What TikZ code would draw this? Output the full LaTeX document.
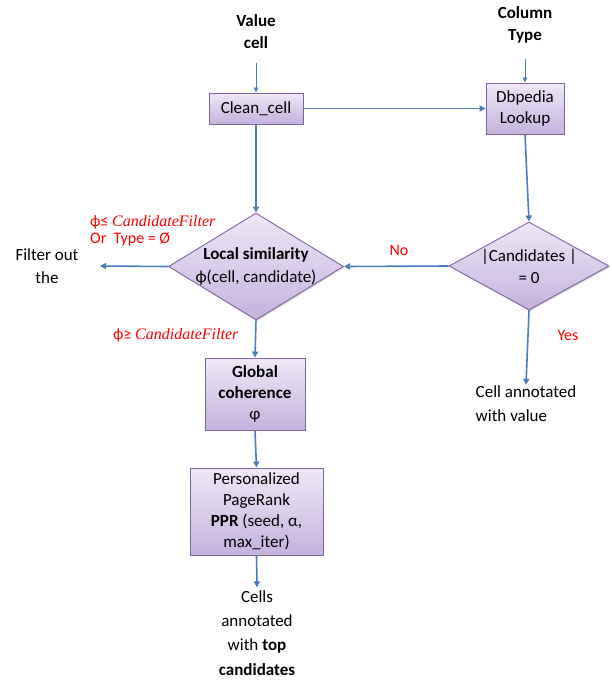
\documentclass[tikz,border=0pt]{standalone}
\usepackage{fontspec}
\setmainfont{Carlito}
\newfontfamily\filterfont{Liberation Serif}
\usetikzlibrary{positioning, arrows.meta, shapes.geometric, shadows}
\definecolor{boxtop}{HTML}{EEE8F6}
\definecolor{boxbottom}{HTML}{C4B2DD}
\definecolor{boxline}{HTML}{8064A2}
\definecolor{flowblue}{HTML}{4A7EBB}
\definecolor{notered}{HTML}{FF0000}

\begin{document}
\begin{tikzpicture}[x=1pt,y=-1pt,font=\fontsize{17}{23}\selectfont,
  box/.style={draw=boxline, line width=0.9pt, top color=boxtop, bottom color=boxbottom, drop shadow={opacity=0.3, shadow xshift=1.2pt, shadow yshift=-1.2pt}, align=center, inner sep=0pt, font=\fontsize{17}{21}\selectfont},
  decision/.style={diamond, draw=boxline, line width=0.9pt, top color=boxtop, bottom color=boxbottom, drop shadow={opacity=0.3, shadow xshift=1.2pt, shadow yshift=-1.2pt}, inner sep=0pt},
  inputlabel/.style={align=center, font=\fontsize{17}{22}\selectfont\bfseries},
  note/.style={text=notered, font=\fontsize{16}{17}\selectfont},
  flow/.style={draw=flowblue, line width=1.6pt, -{Triangle[length=6pt,width=6pt]}},
  inflow/.style={draw=flowblue, line width=0.8pt, -{Triangle[length=5pt,width=4.5pt]}}]

\useasboundingbox (0,0) rectangle (611,683);

% Inputs
\node[inputlabel] (valuecell) at (256,32) {Value\\cell};
\node[inputlabel] (coltype) at (525,25) {Column\\Type};

% Boxes
\node[box,minimum width=94,minimum height=31] (clean) at (256,108.5) {Clean\_cell};
\node[box,minimum width=78,minimum height=51] (dbpedia) at (525,108.5) {Dbpedia\\Lookup};
\node[box,minimum width=100,minimum height=72] (global) at (255,394) {\textbf{Global}\\\textbf{coherence}\\φ};
\node[box,minimum width=133,minimum height=87] (ppr) at (256.5,511.5) {Personalized\\PageRank\\\textbf{PPR} (seed, α,\\max\_iter)};

% Decisions
\node[decision,minimum width=175,minimum height=107] (locsim) at (256,266.5) {};
\node[align=center,inner sep=0pt] (locsimtext) at (locsim.center) {\textbf{Local similarity}\\ϕ(cell, candidate)};
\node[decision,minimum width=160,minimum height=88] (cand) at (529,266) {};
\node[align=center,inner sep=0pt,font=\fontsize{17}{22}\selectfont] (candtext) at (cand.center) {|Candidates |\\= 0};

% Results
\node[align=center] (filterout) at (47,266) {Filter out\\the};
\coordinate (filterend) at (100,266);
\node[align=left,inner sep=1pt,font=\fontsize{17}{24}\selectfont] (cellvalue) at (526,404) {Cell annotated\\with value};
\node[align=center,inner sep=1pt,font=\fontsize{17}{24.3}\selectfont] (cells) at (257,633) {Cells\\annotated\\with \textbf{top}\\\textbf{candidates}};

% Conditions
\node[note,align=left,anchor=west,inner sep=0pt] (lowfilter) at (90,230.5) {ϕ≤ {\filterfont\itshape CandidateFilter}\\Or~ Type = Ø};
\node[note,anchor=west,inner sep=0pt] (highfilter) at (113,335) {ϕ≥ {\filterfont\itshape CandidateFilter}};
\node[note] (no) at (399,250) {No};
\node[note] (yes) at (568,335) {Yes};

% Connectors
\draw[inflow] ([yshift=-10pt]valuecell.south) -- (clean.north);
\draw[inflow] ([yshift=-12pt]coltype.south) -- (dbpedia.north);
\draw[flow] (clean.east) -- (dbpedia.west);
\draw[flow] (clean.south) -- (locsim.north);
\draw[flow] (dbpedia.south) -- (cand.north);
\draw[flow] (cand.west) -- (locsim.east);
\draw[flow] (locsim.west) -- (filterend);
\draw[flow] (cand.south) -- (cellvalue.north);
\draw[flow] (locsim.south) -- (global.north);
\draw[flow] (global.south) -- (ppr.north);
\draw[flow] (ppr.south) -- ([yshift=2pt]cells.north);
\end{tikzpicture}
\end{document}
